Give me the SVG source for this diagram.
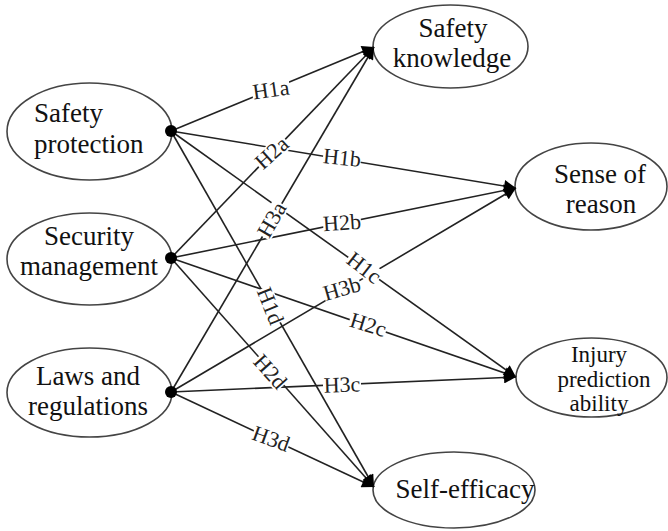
<svg xmlns="http://www.w3.org/2000/svg" width="668" height="531" viewBox="0 0 668 531">
<style>
.node ellipse{fill:#fff;stroke:#444;stroke-width:1.6}
.node text{font-family:"Liberation Serif","Times New Roman",serif;font-size:27px;fill:#111;text-anchor:middle}
.edge line{stroke:#222;stroke-width:1.6;marker-end:url(#arr)}
.lbl rect{fill:#fff}
.lbl text{font-family:"Liberation Serif","Times New Roman",serif;font-size:22px;fill:#222;text-anchor:middle}
.dot{fill:#000}
</style>
<defs>
<marker id="arr" viewBox="0 0 10 10" refX="10" refY="5" markerWidth="14" markerHeight="12" markerUnits="userSpaceOnUse" orient="auto">
<path d="M0,0 L10,5 L0,10 z" fill="#000"/>
</marker>
</defs>
<g id="n-safety-protection" class="node">
<ellipse cx="89.5" cy="131.5" rx="82.5" ry="48.5"/>
<text x="34" y="122" style="text-anchor:start">Safety</text>
<text x="34" y="153" style="text-anchor:start">protection</text>
</g>
<g id="n-security-management" class="node">
<ellipse cx="89.5" cy="259" rx="82.5" ry="46"/>
<text x="89" y="245">Security</text>
<text x="89" y="275">management</text>
</g>
<g id="n-laws" class="node">
<ellipse cx="89.5" cy="392.5" rx="82.5" ry="44.5"/>
<text x="88" y="385">Laws and</text>
<text x="88" y="415">regulations</text>
</g>
<g id="n-safety-knowledge" class="node">
<ellipse cx="450.5" cy="46.5" rx="77.5" ry="41.5"/>
<text x="453" y="37">Safety</text>
<text x="452" y="67">knowledge</text>
</g>
<g id="n-sense-of-reason" class="node">
<ellipse cx="591" cy="186.5" rx="76" ry="43.5"/>
<text x="600" y="183">Sense of</text>
<text x="601" y="213">reason</text>
</g>
<g id="n-injury" class="node">
<ellipse cx="591.5" cy="377.5" rx="75.5" ry="39.5"/>
<text x="599" y="362" style="font-size:23px">Injury</text>
<text x="604" y="387" style="font-size:23px">prediction</text>
<text x="599" y="411" style="font-size:23px">ability</text>
</g>
<g id="n-self-efficacy" class="node">
<ellipse cx="454" cy="490" rx="81" ry="38"/>
<text x="465" y="498">Self-efficacy</text>
</g>
<g id="connectors" class="edge">
<line x1="171" y1="131" x2="374" y2="47"/>
<line x1="171" y1="131" x2="516" y2="188"/>
<line x1="171" y1="131" x2="516" y2="377"/>
<line x1="171" y1="131" x2="374" y2="487"/>
<line x1="171" y1="258" x2="374" y2="47"/>
<line x1="171" y1="258" x2="516" y2="188"/>
<line x1="171" y1="258" x2="516" y2="377"/>
<line x1="171" y1="258" x2="374" y2="487"/>
<line x1="171" y1="392" x2="374" y2="47"/>
<line x1="171" y1="392" x2="516" y2="188"/>
<line x1="171" y1="392" x2="516" y2="377"/>
<line x1="171" y1="392" x2="374" y2="487"/>
</g>
<g id="dots">
<circle class="dot" cx="171" cy="131" r="6"/>
<circle class="dot" cx="171" cy="258" r="6"/>
<circle class="dot" cx="171" cy="392" r="6"/>
</g>
<g id="labels" class="lbl">
<g transform="translate(271,90) rotate(-8)"><rect x="-19" y="-9" width="38" height="18"/><text y="7">H1a</text></g>
<g transform="translate(272,153) rotate(-42)"><rect x="-19" y="-9" width="38" height="18"/><text y="7">H2a</text></g>
<g transform="translate(342,158) rotate(6)"><rect x="-19" y="-9" width="38" height="18"/><text y="7">H1b</text></g>
<g transform="translate(272,220) rotate(-60)"><rect x="-19" y="-9" width="38" height="18"/><text y="7">H3a</text></g>
<g transform="translate(342,223) rotate(-4)"><rect x="-19" y="-9" width="38" height="18"/><text y="7">H2b</text></g>
<g transform="translate(364,268) rotate(38)"><rect x="-19" y="-9" width="38" height="18"/><text y="7">H1c</text></g>
<g transform="translate(342,289) rotate(-16)"><rect x="-19" y="-9" width="38" height="18"/><text y="7">H3b</text></g>
<g transform="translate(270,306) rotate(68)"><rect x="-19" y="-9" width="38" height="18"/><text y="7">H1d</text></g>
<g transform="translate(368,325) rotate(17)"><rect x="-19" y="-9" width="38" height="18"/><text y="7">H2c</text></g>
<g transform="translate(270,372) rotate(48)"><rect x="-19" y="-9" width="38" height="18"/><text y="7">H2d</text></g>
<g transform="translate(342,385) rotate(-2)"><rect x="-19" y="-9" width="38" height="18"/><text y="7">H3c</text></g>
<g transform="translate(271,439) rotate(20)"><rect x="-19" y="-9" width="38" height="18"/><text y="7">H3d</text></g>
</g>
</svg>
